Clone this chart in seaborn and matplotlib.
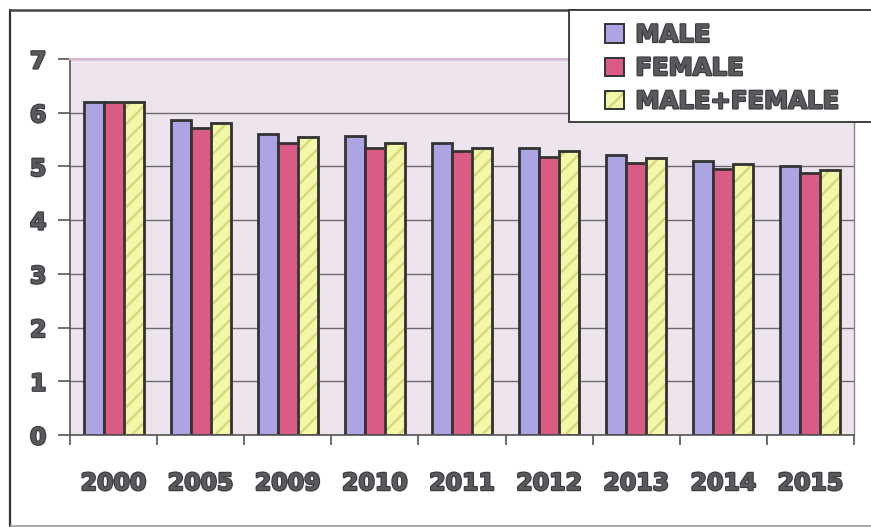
import matplotlib
matplotlib.use("Agg")
import matplotlib.pyplot as plt
import matplotlib.patheffects as pe
from matplotlib.patches import Patch, Rectangle
from matplotlib.lines import Line2D
from matplotlib.legend_handler import HandlerTuple
import pandas as pd
import seaborn as sns

years = ["2000", "2005", "2009", "2010", "2011", "2012", "2013", "2014", "2015"]
male = [6.2, 5.87, 5.61, 5.56, 5.44, 5.35, 5.22, 5.11, 5.00]
female = [6.2, 5.72, 5.43, 5.35, 5.28, 5.17, 5.07, 4.96, 4.87]
both = [6.2, 5.80, 5.54, 5.43, 5.35, 5.28, 5.15, 5.04, 4.93]
series = ["MALE", "FEMALE", "MALE+FEMALE"]
yticks = [0, 1, 2, 3, 4, 5, 6, 7]

colors = ["#ADA4E4", "#DA5C84", "#F4F7A8"]
hatch_col = "#D2D77C"
edge = "#333333"
text_col = "#5A5A5E"

df = pd.DataFrame({
    "year": years * 3,
    "value": male + female + both,
    "series": [s for s in series for _ in years],
})

sns.set_style("white")
plt.rcParams["font.family"] = ["DejaVu Sans"]
plt.rcParams["hatch.linewidth"] = 1.6

fig = plt.figure(figsize=(8.71, 5.27), dpi=100)
ax = fig.add_axes([70 / 871, 1 - 435 / 527, (854 - 70) / 871, (435 - 59) / 527])

sns.barplot(data=df, x="year", y="value", hue="series", hue_order=series,
            palette=colors, saturation=1, order=years, width=0.69, gap=0.0,
            edgecolor=edge, linewidth=2.0, ax=ax, legend=False, errorbar=None)

# combined series: light diagonal hatch, dark outline drawn on top
for cont, s in zip(ax.containers, series):
    if s != "MALE+FEMALE":
        continue
    for bar in cont:
        bar.set_hatch("//")
        bar.set_edgecolor(hatch_col)
        ax.add_patch(Rectangle(bar.get_xy(), bar.get_width(), bar.get_height(),
                               fill=False, edgecolor=edge, linewidth=2.0,
                               zorder=bar.get_zorder() + 0.1))

ax.set_facecolor("#EEE4EE")
ax.set_ylim(0, 7)
ax.set_xlim(-0.5, len(years) - 0.5)
ax.set_yticks(yticks)
ax.yaxis.grid(True, color="#6E6A70", linewidth=1.0)
ax.set_axisbelow(True)
ax.set_xlabel("")
ax.set_ylabel("")

for side in ["left", "bottom"]:
    ax.spines[side].set_color("#555555")
    ax.spines[side].set_linewidth(1.2)
ax.spines["top"].set_color("#D8B8D0")
ax.spines["top"].set_linewidth(1.5)
ax.spines["right"].set_color("#8A8290")
ax.spines["right"].set_linewidth(1.0)

ax.tick_params(axis="x", which="major", length=0, pad=26)
ax.set_xticks([i - 0.5 for i in range(len(years) + 1)], minor=True)
ax.tick_params(axis="x", which="minor", length=7, width=1.2, color="#555555",
               direction="out", bottom=True)
ax.tick_params(axis="y", length=9, width=1.2, color="#555555", left=True,
               direction="out", pad=8)

stroke = [pe.withStroke(linewidth=1.6, foreground="#3A3A3E")]
for lab in ax.get_xticklabels() + ax.get_yticklabels():
    lab.set_fontsize(17)
    lab.set_fontweight("heavy")
    lab.set_color(text_col)
    lab.set_path_effects(stroke)

# outer chart frame
fig.add_artist(Line2D([10 / 871, 10 / 871], [0, 1 - 10 / 527],
                      transform=fig.transFigure, color="#333333", lw=1.6))
fig.add_artist(Line2D([10 / 871, 1], [1 - 10 / 527, 1 - 10 / 527],
                      transform=fig.transFigure, color="#444444", lw=1.8))
fig.add_artist(Line2D([10 / 871, 1], [1.5 / 527, 1.5 / 527],
                      transform=fig.transFigure, color="#999999", lw=1.2))

# legend box
fig.add_artist(Rectangle((569 / 871, 1 - 122 / 527), (880 - 569) / 871, (122 - 10) / 527,
                         transform=fig.transFigure, facecolor="white",
                         edgecolor="#333333", linewidth=1.3, zorder=5))
handles = []
for c, s in zip(colors, series):
    if s == "MALE+FEMALE":
        handles.append((Patch(facecolor=c, edgecolor=hatch_col, hatch="//", linewidth=0),
                        Patch(fill=False, edgecolor=edge, linewidth=1.4)))
    else:
        handles.append(Patch(facecolor=c, edgecolor=edge, linewidth=1.4))
leg = fig.legend(handles, series, loc="upper left",
                 bbox_to_anchor=(588 / 871, 1 - 6 / 527),
                 frameon=False, handlelength=0.8, handleheight=0.8,
                 handletextpad=0.45, labelspacing=0.38, borderpad=0.2,
                 handler_map={tuple: HandlerTuple(ndivide=1)},
                 prop={"size": 17.5, "weight": "heavy"})
leg.set_zorder(6)
for t in leg.get_texts():
    t.set_color(text_col)
    t.set_path_effects(stroke)

fig.savefig("out.png", dpi=100)
